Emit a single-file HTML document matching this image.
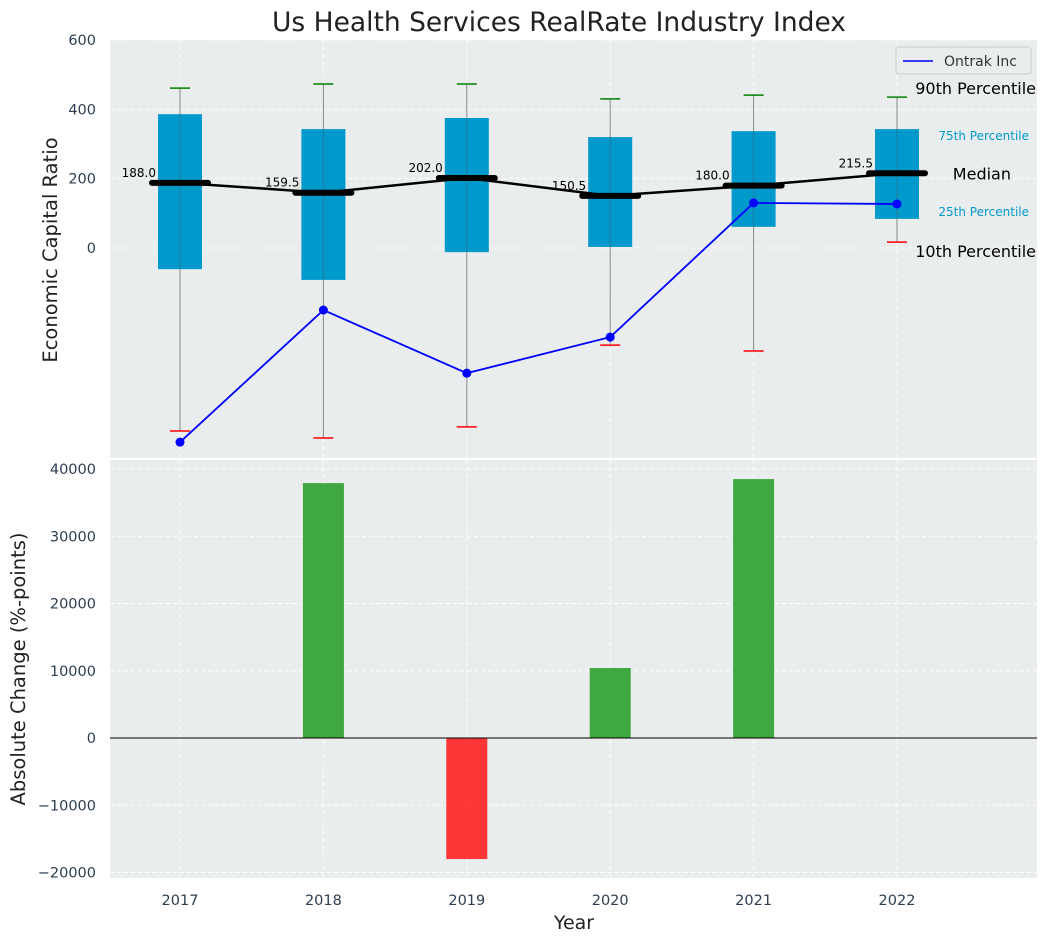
<!DOCTYPE html>
<html><head><meta charset="utf-8"><style>
body{margin:0;background:#fff;font-family:"Liberation Sans","DejaVu Sans",sans-serif}
svg text{font-family:"DejaVu Sans","Liberation Sans",sans-serif}
</style></head><body>
<svg id="c" width="1048" height="942" xmlns="http://www.w3.org/2000/svg"></svg>
<script>
const years=[2017,2018,2019,2020,2021,2022];
const p10=[-528,-548,-516,-280,-297,17];
const p25=[-61,-92,-12,3,61,84];
const med=[188.0,159.5,202.0,150.5,180.0,215.5];
const p75=[386,343,375,320,337,343];
const p90=[461,473,473,430,441,435];
const ontrak=[-560,-179,-361,-257,130,127];
const changes=[0,37900,-18000,10400,38500,0];
const topTicks=[0,200,400,600];
const botTicks=[-20000,-10000,0,10000,20000,30000,40000];

const NS="http://www.w3.org/2000/svg",svg=document.getElementById('c');
function el(t,a,txt){const e=document.createElementNS(NS,t);for(const k in a)e.setAttribute(k,a[k]);if(txt!==undefined)e.textContent=txt;svg.appendChild(e);return e;}
const X=y=>180+(y-2017)*143.4;
const Y1=v=>248-v*0.3467;
const Y2=v=>738-v*0.006725;
const TC='#2c3e50';
let t=el('text',{x:559,y:31,'text-anchor':'middle','font-size':26.5,fill:'#222'},'Us Health Services RealRate Industry Index');

let p=el('rect',{x:110,y:40,width:927,height:418,fill:'#eaeded'});
p=el('rect',{x:110,y:460,width:927,height:418,fill:'#eaeded'});
years.forEach(y=>{el('line',{x1:X(y),x2:X(y),y1:40,y2:458,stroke:'#fff','stroke-dasharray':'4,3'});el('line',{x1:X(y),x2:X(y),y1:460,y2:878,stroke:'#fff','stroke-dasharray':'4,3'});
 let l=el('text',{x:X(y),y:905,'text-anchor':'middle','font-size':14.5,fill:TC},y);});
topTicks.forEach(v=>{el('line',{x1:110,x2:1037,y1:Y1(v),y2:Y1(v),stroke:'#fff','stroke-dasharray':'4,3'});
 let l=el('text',{x:96,y:Y1(v)+5,'text-anchor':'end','font-size':14.5,fill:TC},v);});
botTicks.forEach(v=>{el('line',{x1:110,x2:1037,y1:Y2(v),y2:Y2(v),stroke:'#fff','stroke-dasharray':'4,3'});
 let l=el('text',{x:96,y:Y2(v)+5,'text-anchor':'end','font-size':14.5,fill:TC},v<0?'\u2212'+(-v):v);});
years.forEach((y,i)=>{const x=X(y);
 el('line',{x1:x,x2:x,y1:Y1(p90[i]),y2:Y1(p10[i]),stroke:'#888','stroke-width':1});
 let b=el('rect',{x:x-22,y:Y1(p75[i]),width:44,height:Y1(p25[i])-Y1(p75[i]),fill:'#0099cc'});
 el('line',{x1:x,x2:x,y1:Y1(p75[i]),y2:Y1(p25[i]),stroke:'#555','stroke-width':0.8,opacity:0.5});
 el('line',{x1:x-10,x2:x+10,y1:Y1(p90[i]),y2:Y1(p90[i]),stroke:'green','stroke-width':1.5});
 el('line',{x1:x-10,x2:x+10,y1:Y1(p10[i]),y2:Y1(p10[i]),stroke:'red','stroke-width':1.5});
});
let d=years.map((y,i)=>(i?'L':'M')+X(y)+','+Y1(med[i])).join('');
el('path',{d:d,stroke:'#000','stroke-width':2.5,fill:'none'});
years.forEach((y,i)=>{const x=X(y);
 let m=el('line',{x1:x-28,x2:x+28,y1:Y1(med[i]),y2:Y1(med[i]),stroke:'#000','stroke-width':6,'stroke-linecap':'round'});
 el('text',{x:x-24,y:Y1(med[i])-6,'text-anchor':'end','font-size':12,fill:'#000'},med[i].toFixed(1));
});
d=years.map((y,i)=>(i?'L':'M')+X(y)+','+Y1(ontrak[i])).join('');
let ol=el('path',{d:d,stroke:'blue','stroke-width':1.8,fill:'none'});
years.forEach((y,i)=>{let c=el('circle',{cx:X(y),cy:Y1(ontrak[i]),r:4.5,fill:'blue'});});
el('text',{x:1036,y:Y1(p90[5])-3,'text-anchor':'end','font-size':16,fill:'#000'},'90th Percentile');
el('text',{x:1029,y:Y1(p75[5])+11,'text-anchor':'end','font-size':12,fill:'#0099cc'},'75th Percentile');
el('text',{x:1011,y:Y1(med[5])+6,'text-anchor':'end','font-size':16,fill:'#000'},'Median');
el('text',{x:1029,y:Y1(p25[5])-3,'text-anchor':'end','font-size':12,fill:'#0099cc'},'25th Percentile');
el('text',{x:1036,y:Y1(p10[5])+15,'text-anchor':'end','font-size':16,fill:'#000'},'10th Percentile');
let lg=el('rect',{x:896,y:47,width:135,height:27,fill:'#eaeded',stroke:'#ccc',rx:3});
el('line',{x1:903,x2:933,y1:61,y2:61,stroke:'blue','stroke-width':1.6});
el('text',{x:944,y:66,'font-size':14,fill:'#333'},'Ontrak Inc');
years.forEach((y,i)=>{const v=changes[i];if(!v)return;
 let r=el('rect',{x:X(y)-20.5,y:Math.min(Y2(v),Y2(0)),width:41,height:Math.abs(Y2(v)-Y2(0)),fill:v>0?'#2ca02c':'#ff2222',opacity:0.9});});
el('line',{x1:110,x2:1037,y1:Y2(0),y2:Y2(0),stroke:'#000','stroke-width':1});
let a=el('text',{x:0,y:0,transform:'translate(57,250) rotate(-90)','text-anchor':'middle','font-size':19.5,fill:'#222'},'Economic Capital Ratio');
a=el('text',{x:0,y:0,transform:'translate(25,669) rotate(-90)','text-anchor':'middle','font-size':19.5,fill:'#222'},'Absolute Change (%-points)');
a=el('text',{x:574,y:929,'text-anchor':'middle','font-size':19,fill:'#222'},'Year');
</script></body></html>
